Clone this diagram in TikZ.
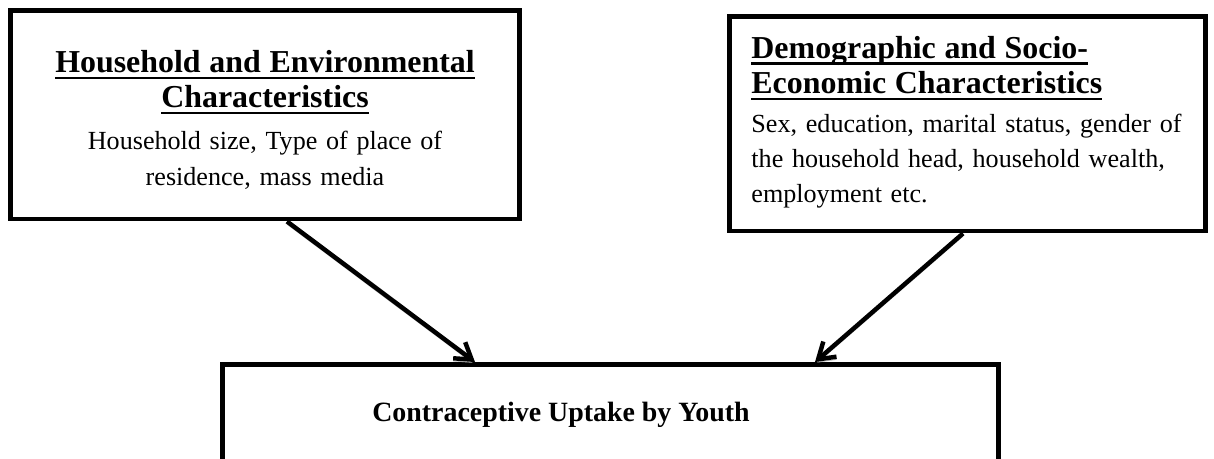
\documentclass[tikz,border=0pt]{standalone}
\usepackage{fontspec}
\setmainfont{Liberation Serif}
\usetikzlibrary{arrows.meta, positioning, fit, calc}

\newcommand{\headfont}{\fontsize{14.3}{\baselineskip}\selectfont\bfseries}
\newsavebox{\headbox}
\newcommand{\headul}[1]{\leavevmode\sbox{\headbox}{#1}\rlap{\rule[-3.1pt]{\wd\headbox}{1.1pt}}\usebox{\headbox}}

\begin{document}
\begin{tikzpicture}[
    x=0.448pt, y=-0.448pt,
    box/.style={rectangle, draw=black, line width=2.2pt, inner sep=0pt},
    boxtext/.style={inner sep=0pt, anchor=base, font=\fontsize{11.7}{15.7}\selectfont},
    arrow/.style={-{Straight Barb[length=7pt, width=9pt]}, line width=2pt,
        preaction={draw=gray!55, transform canvas={yshift=-1.2pt}}}
]
\useasboundingbox (0,0) rectangle (1214,458);
\clip (0,0) rectangle (1214,458);

% Boxes
\node[box, fit={(10.5,10.5) (519.5,219)}] (house) {};
\node[box, fit={(729.5,16.5) (1205.5,231)}] (demo) {};
\node[box, fit={(222.5,364.5) (998.5,540)}] (uptake) {};

% Texts
\node[boxtext, text width=225pt, align=center] (housetxt) at (265,72.5)
    {{\headfont\headul{Household and Environmental}\\ \headul{Characteristics}}\\[3.3pt]
     Household size, Type of place of\\ residence, mass media};
\node[boxtext, text width=210pt, align=left, anchor=base west] (demotxt) at (751,58)
    {{\headfont\headul{Demographic and Socio-}\\ \headul{Economic Characteristics}}\\[2.1pt]
     Sex, education, marital status, gender of\\ the household head, household wealth,\\ employment etc.};
\node[boxtext, font=\fontsize{12.5}{15.7}\selectfont\bfseries] (uptaketxt) at (561,421)
    {Contraceptive Uptake by Youth};

% Arrows
\draw[arrow] ($(house.south)+(22,0)$) -- ($(uptake.north)+(-135.5,0)$);
\draw[arrow] ($(demo.south)+(-4.5,0)$) -- ($(uptake.north)+(204.5,0)$);

\end{tikzpicture}
\end{document}
